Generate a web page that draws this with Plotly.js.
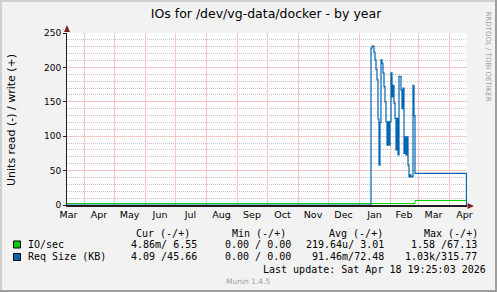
<!DOCTYPE html>
<html><head><meta charset="utf-8">
<script src="https://cdn.plot.ly/plotly-3.0.1.min.js"></script>
<style>html,body{margin:0;padding:0;background:#F2F2F2;}#chart{width:497px;height:292px;}</style>
</head><body><div id="chart"></div>
<script>
// ---- data ----
const rangeStart = '2025-03-15';
const rangeEnd = '2026-04-19';
const monthTick0 = '2025-03-01';
const yTicks = [0, 50, 100, 150, 200, 250];

// Req Size (KB), write (+): quiet period, daily values from 2026-01-13, then plateau
const reqHeadDates = ['2025-03-15', '2026-01-12'];
const reqHeadValues = [0, 0];
const reqDailyStart = '2026-01-13';
const reqDailyValues = [228, 231, 231, 222, 211, 197, 182, 125, 58, 120, 211, 206, 192, 172, 150, 121, 87, 121, 87,
  121, 192, 157, 174, 148, 126, 80, 126, 73, 187, 187, 167, 140, 170, 75, 99, 73, 99, 58, 41, 44, 41, 41, 174, 130];
const reqTailDates = ['2026-02-26', '2026-04-18', '2026-04-18 12:00'];
const reqTailValues = [46, 46, 0];

// IO/sec, write (+)
const ioDates = ['2025-03-15', '2026-02-26', '2026-04-18', '2026-04-18 12:00'];
const ioValues = [2, 6.5, 6.5, 0];

const legendHeaders = ['Cur (-/+)', 'Min (-/+)', 'Avg (-/+)', 'Max (-/+)'];
const seriesNames = ['IO/sec', 'Req Size (KB)'];
const ioStats = ['4.86m/ 6.55', '0.00 / 0.00', '219.64u/ 3.01', '1.58 /67.13'];
const reqStats = ['4.09 /45.66', '0.00 / 0.00', '91.46m/72.48', '1.03k/315.77'];
const seriesColors = ['#00CC00', '#0066B3'];

// ---- build ----
function addDays(s, n) {
  const d = new Date(s + 'T00:00:00Z');
  d.setUTCDate(d.getUTCDate() + n);
  return d.toISOString().slice(0, 10);
}
const reqDates = reqHeadDates.concat(reqDailyValues.map((v, i) => addDays(reqDailyStart, i)), reqTailDates);
const reqValues = reqHeadValues.concat(reqDailyValues, reqTailValues);

const W = 497, H = 292, L = 67, T = 33, PW = 400, PH = 172;
const fx = px => (px - L) / PW;
const fy = py => (T + PH - py) / PH;

const traces = [
  {x: ioDates, y: ioValues, type: 'scatter', mode: 'lines', line: {shape: 'hv', color: seriesColors[0], width: 1}, hoverinfo: 'skip'},
  {x: reqDates, y: reqValues, type: 'scatter', mode: 'lines', line: {shape: 'hv', color: seriesColors[1], width: 1.2}, hoverinfo: 'skip'}
];

const mono = {family: 'DejaVu Sans Mono', size: 10, color: '#000'};
const ann = [];
function txt(text, px, py, anchor, font, extra) {
  ann.push(Object.assign({text: text, xref: 'paper', yref: 'paper', x: fx(px), y: fy(py), xanchor: anchor, yanchor: 'middle',
    showarrow: false, font: font, borderpad: 0}, extra || {}));
}
const headLeft = [135, 231, 328, 423];
legendHeaders.forEach((h, i) => txt(h, headLeft[i], 233, 'left', mono));
txt(seriesNames[0], 27, 244.5, 'left', mono);
txt(seriesNames[1], 27, 256.5, 'left', mono);
const colRight = [197.5, 291.5, 384.5, 477.5];
ioStats.forEach((s, i) => txt(s, colRight[i], 244.5, 'right', mono));
reqStats.forEach((s, i) => txt(s, colRight[i], 256.5, 'right', mono));
txt('Last update: Sat Apr 18 19:25:03 2026', 261.5, 269, 'left', mono);
txt('Munin 1.4.5', 248.5, 281, 'center', {family: 'DejaVu Sans', size: 7.5, color: '#A0A0A0'});
txt('RRDTOOL / TOBI OETIKER', 487.5, 56, 'center', {family: 'DejaVu Sans', size: 7, color: '#A0A0A0'}, {textangle: 90});
txt('Units read (-) / write (+)', 11, 120, 'center', {family: 'DejaVu Sans', size: 11, color: '#000'}, {textangle: -90});

const shapes = [];
function rectPx(x0, y0, x1, y1, fill, lineColor) {
  shapes.push({type: 'rect', xref: 'paper', yref: 'paper', x0: fx(x0), x1: fx(x1), y0: fy(y1), y1: fy(y0),
    fillcolor: fill, line: {color: lineColor || fill, width: lineColor ? 1 : 0}, layer: 'above'});
}
// frame shading
rectPx(0, 0, W, 2, '#CFCFCF');
rectPx(0, 0, 2, H, '#CFCFCF');
rectPx(0, H - 2, W, H, '#9E9E9E');
rectPx(W - 2, 0, W, H, '#9E9E9E');
// legend swatches
rectPx(13.5, 241, 20.5, 248, seriesColors[0], '#000');
rectPx(13.5, 253.5, 20.5, 260.5, seriesColors[1], '#000');
// axis arrows
function pathPx(pts, color) {
  const d = pts.map((p, i) => (i ? 'L' : 'M') + fx(p[0]) + ',' + fy(p[1])).join(' ') + ' Z';
  shapes.push({type: 'path', xref: 'paper', yref: 'paper', path: d, fillcolor: color, line: {color: color, width: 0}, layer: 'above'});
}
pathPx([[67, 25], [64, 32], [70, 32]], '#801F1F');
pathPx([[474, 206], [467.5, 203], [467.5, 209]], '#801F1F');

const layout = {
  width: W, height: H,
  paper_bgcolor: '#F2F2F2', plot_bgcolor: '#FFFFFF',
  margin: {l: L, r: W - L - PW, t: T, b: H - T - PH, pad: 0},
  showlegend: false,
  font: {family: 'DejaVu Sans', size: 9, color: '#000'},
  title: {text: 'IOs for /dev/vg-data/docker - by year', font: {family: 'DejaVu Sans', size: 12.5, color: '#000'},
    xref: 'container', x: 266 / W, xanchor: 'center', yref: 'container', y: 1 - 13.5 / H, yanchor: 'middle'},
  xaxis: {
    type: 'date', range: [rangeStart, rangeEnd], autorange: false,
    tick0: monthTick0, dtick: 'M1', tickformat: '%b', ticklabelmode: 'period',
    showgrid: true, gridcolor: '#F4C6C6', griddash: 'solid', gridwidth: 1,
    showline: true, linecolor: '#1F1F1F', linewidth: 2, ticks: '', zeroline: false,
    tickfont: {family: 'DejaVu Sans', size: 9.5, color: '#000'}, fixedrange: true
  },
  yaxis: {
    range: [0, 250], autorange: false, tickvals: yTicks,
    showgrid: true, gridcolor: '#F4C6C6', griddash: 'solid', gridwidth: 1,
    minor: {dtick: 10, showgrid: true, gridcolor: '#C4C4C4', griddash: '1px,1px', gridwidth: 1},
    showline: true, linecolor: '#1F1F1F', linewidth: 1, ticks: 'outside', ticklen: 3, tickcolor: '#1F1F1F',
    zeroline: false, tickfont: {family: 'DejaVu Sans', size: 9, color: '#000'}, fixedrange: true
  },
  annotations: ann,
  shapes: shapes
};
Plotly.newPlot('chart', traces, layout, {staticPlot: true, displayModeBar: false});
</script>
</body></html>
